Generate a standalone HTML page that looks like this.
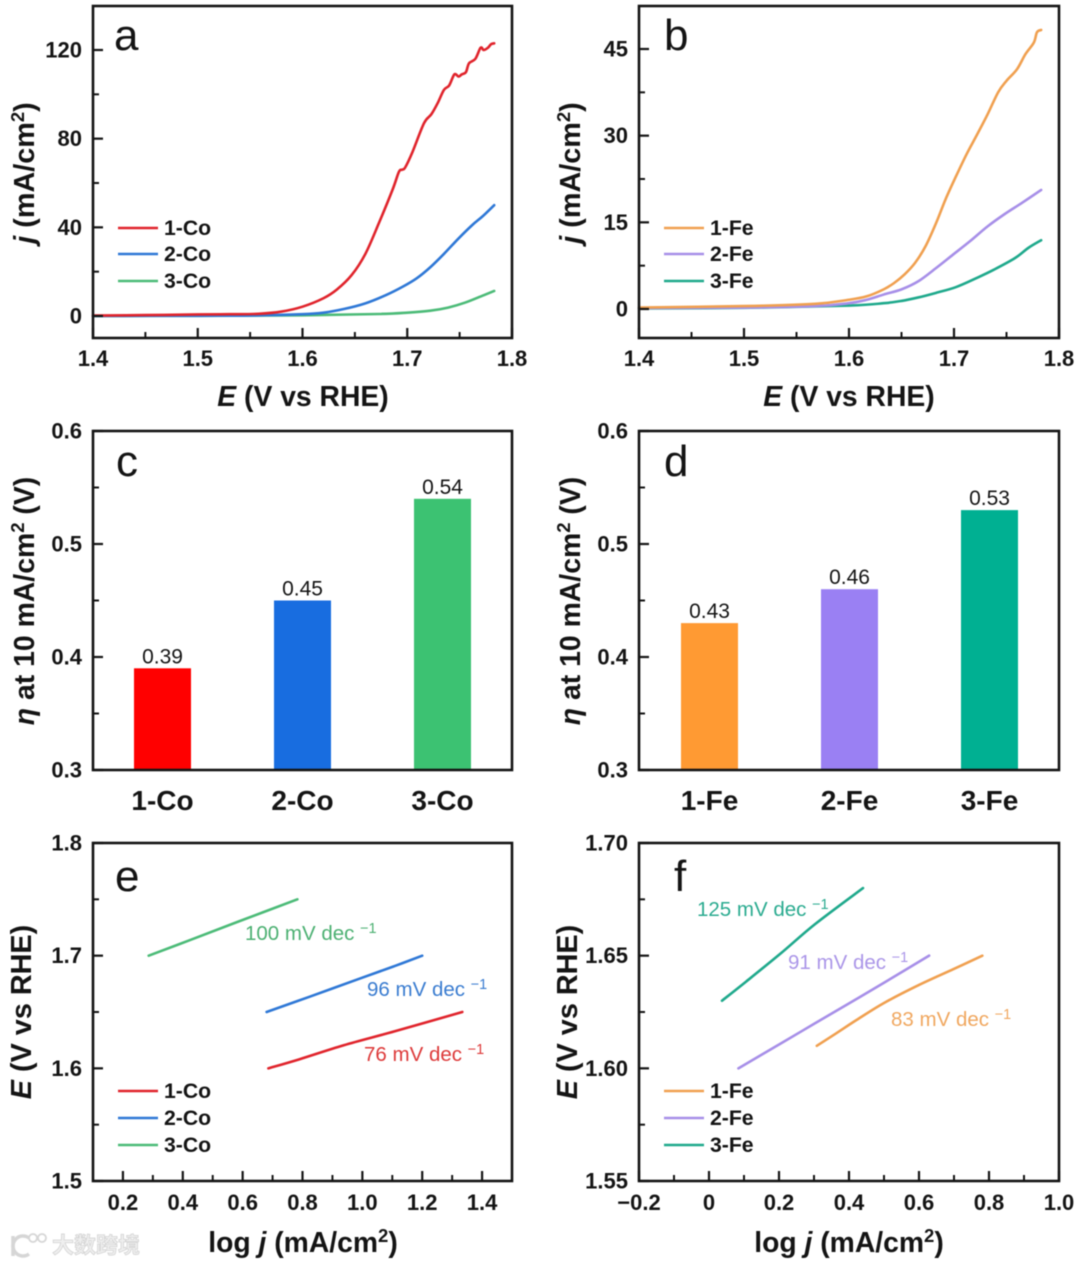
<!DOCTYPE html>
<html lang="en">
<head>
<meta charset="utf-8">
<title>Six-panel electrochemistry figure</title>
<style>
html,body{margin:0;padding:0;background:#fff;}
#figure{display:block;width:1080px;height:1266px;font-family:"Liberation Sans",sans-serif;filter:blur(0.45px);}
</style>
</head>
<body>
<svg id="figure" xmlns="http://www.w3.org/2000/svg" width="1080" height="1266" viewBox="0 0 1080 1266"></svg>
<script>
/* ---- Panel a: polarization curves, Co series ---- */
const co1Potential = [1.4,1.45,1.5,1.53,1.558,1.58,1.6,1.62,1.633,1.647,1.66,1.673,1.686,1.692,1.695,1.698,1.705,1.716,1.723,1.729,1.735,1.74,1.745,1.749,1.752,1.756,1.759,1.765,1.77,1.773,1.777,1.78,1.783];
const co1Current = [0.2,0.4,0.7,0.8,1,2,4.2,8,12,18.5,28,42,57,65,66,67,74,87,91,96,102,104,109,108,109,110,114,116,121,120,121,122.6,123];
const co2Potential = [1.4,1.5,1.55,1.6,1.62,1.64,1.66,1.68,1.696,1.709,1.722,1.735,1.749,1.762,1.772,1.783];
const co2Current = [0,0.1,0.2,0.8,1.5,3.2,5.7,9.5,13.3,17,22,28,35,41,45,50];
const co3Potential = [1.4,1.5,1.6,1.673,1.7,1.722,1.739,1.755,1.771,1.783];
const co3Current = [0,0.1,0.3,0.9,1.5,2.4,3.8,6,9,11.3];

/* ---- Panel b: polarization curves, Fe series ---- */
const fe1Potential = [1.4,1.5,1.568,1.6,1.617,1.633,1.643,1.653,1.663,1.673,1.683,1.692,1.702,1.712,1.722,1.732,1.742,1.75,1.76,1.768,1.776,1.779,1.783];
const fe1Current = [0.25,0.5,0.9,1.6,2.2,3.4,4.5,6,8,10.9,14.9,19,23,26.8,30.2,33.7,37.5,39.5,41.5,44.1,46.1,47.9,48.3];
const fe2Potential = [1.4,1.5,1.568,1.6,1.617,1.633,1.65,1.666,1.683,1.699,1.715,1.732,1.748,1.765,1.783];
const fe2Current = [0.15,0.25,0.5,1,1.6,2.5,3.4,4.8,7.1,9.4,11.7,14.3,16.4,18.4,20.6];
const fe3Potential = [1.4,1.5,1.6,1.633,1.65,1.666,1.683,1.702,1.722,1.738,1.758,1.771,1.783];
const fe3Current = [0.1,0.2,0.6,1,1.4,2,2.8,3.8,5.4,6.8,8.8,10.6,11.9];

/* ---- Panels c, d: overpotential bars ---- */
const coCategories = ['1-Co','2-Co','3-Co'];
const coOverpotential = [0.39,0.45,0.54];
const feCategories = ['1-Fe','2-Fe','3-Fe'];
const feOverpotential = [0.43,0.46,0.53];

/* ---- Panel e: Tafel lines, Co series ---- */
const co1LogJ = [0.686,0.789,0.938,1.11,1.334];
const co1TafelE = [1.6,1.608,1.6205,1.633,1.65];
const co2LogJ = [0.68,0.823,0.995,1.11,1.2];
const co2TafelE = [1.65,1.6635,1.68,1.691,1.7];
const co3LogJ = [0.286,0.421,0.593,0.783];
const co3TafelE = [1.7,1.7135,1.731,1.75];

/* ---- Panel f: Tafel lines, Fe series ---- */
const fe1LogJ = [0.308,0.363,0.422,0.5,0.6,0.698,0.781];
const fe1TafelE = [1.61,1.6155,1.6215,1.629,1.637,1.644,1.65];
const fe2LogJ = [0.084,0.205,0.303,0.402,0.5,0.629];
const fe2TafelE = [1.6,1.611,1.62,1.629,1.638,1.65];
const fe3LogJ = [0.037,0.106,0.205,0.303,0.44];
const fe3TafelE = [1.63,1.6385,1.651,1.664,1.68];

/* ---- Axis ticks and labels ---- */
const potentialTicks = [1.4,1.5,1.6,1.7,1.8];
const potentialMinor = [1.45,1.55,1.65,1.75];
const aYTicks = [0,40,80,120];
const aYMinor = [20,60,100];
const bYTicks = [0,15,30,45];
const bYMinor = [7.5,22.5,37.5];
const barYTicks = [0.3,0.4,0.5,0.6];
const barYMinor = [0.35,0.45,0.55];
const eXTicks = [0.2,0.4,0.6,0.8,1.0,1.2,1.4];
const eXMinor = [0.3,0.5,0.7,0.9,1.1,1.3];
const eYTicks = [1.5,1.6,1.7,1.8];
const eYMinor = [1.55,1.65,1.75];
const fXTicks = [-0.2,0,0.2,0.4,0.6,0.8,1.0];
const fXMinor = [-0.1,0.1,0.3,0.5,0.7,0.9];
const fYTicks = [1.55,1.6,1.65,1.7];
const fYMinor = [1.575,1.625,1.675];

const COLORS = {co1:'#e0242c',co2:'#2f78d6',co3:'#4cbb78',fe1:'#f0a050',fe2:'#a78fe8',fe3:'#1fa98c'};
const BAR_COLORS = {co:['#ff0000','#186de0','#3cc272'],fe:['#ff9a33','#9a80f3','#00b092']};
const SVGNS = 'http://www.w3.org/2000/svg';
const root = document.getElementById('figure');

function mark(parent, tag, name, attrs, text) {
  const el = document.createElementNS(SVGNS, tag);
  
  
  for (const k in attrs) el.setAttribute(k, attrs[k]);
  if (text !== undefined) el.textContent = text;
  parent.appendChild(el);
  return el;
}
function span(parent, name, attrs, text) { return mark(parent, 'tspan', name, attrs, text); }
function linear(d0, d1, r0, r1) { return v => r0 + (v - d0) * (r1 - r0) / (d1 - d0); }
function fmt(v, digits) {
  if (v === 0 && digits === 0) return '0';
  const s = Math.abs(v).toFixed(digits);
  return (v < 0 ? '\u2212' : '') + s;
}

function makePanel(key, box, xDom, yDom) {
  const g = mark(root, 'g', 'panel-' + key, {});
  return {key, g, box, x: linear(xDom[0], xDom[1], box.l, box.r), y: linear(yDom[0], yDom[1], box.b, box.t)};
}
function drawFrame(p) {
  mark(p.g, 'rect', 'plot-frame-' + p.key, {x:p.box.l, y:p.box.t, width:p.box.r-p.box.l, height:p.box.b-p.box.t, fill:'none', stroke:'#141414', 'stroke-width':2.6});
}
function drawYAxis(p, ticks, minor, digits) {
  const l = p.box.l;
  ticks.forEach(v => {
    const y = p.y(v);
    mark(p.g, 'line', 'y-tick-' + p.key, {x1:l, x2:l+10, y1:y, y2:y, stroke:'#141414', 'stroke-width':2.2});
    mark(p.g, 'text', 'y-tick-label-' + p.key, {x:l-11, y:y+7.5, 'text-anchor':'end', 'font-size':22, 'font-weight':'bold', fill:'#141414'}, fmt(v, digits));
  });
  minor.forEach(v => {
    const y = p.y(v);
    mark(p.g, 'line', 'y-minor-tick-' + p.key, {x1:l, x2:l+6, y1:y, y2:y, stroke:'#141414', 'stroke-width':2});
  });
}
function drawXAxis(p, ticks, minor, digits, baseline) {
  const b = p.box.b;
  ticks.forEach(v => {
    const x = p.x(v);
    mark(p.g, 'line', 'x-tick-' + p.key, {x1:x, x2:x, y1:b, y2:b-10, stroke:'#141414', 'stroke-width':2.2});
    mark(p.g, 'text', 'x-tick-label-' + p.key, {x:x, y:baseline, 'text-anchor':'middle', 'font-size':22, 'font-weight':'bold', fill:'#141414'}, fmt(v, v === 0 ? 0 : digits));
  });
  minor.forEach(v => {
    const x = p.x(v);
    mark(p.g, 'line', 'x-minor-tick-' + p.key, {x1:x, x2:x, y1:b, y2:b-6, stroke:'#141414', 'stroke-width':2});
  });
}
function drawLine(p, name, xs, ys, color, width) {
  const pts = xs.map((v, i) => [p.x(v), p.y(ys[i])]);
  let d = 'M' + pts[0][0].toFixed(2) + ' ' + pts[0][1].toFixed(2);
  for (let i = 0; i < pts.length - 1; i++) {
    const a = pts[Math.max(i - 1, 0)], b = pts[i], c = pts[i + 1], e = pts[Math.min(i + 2, pts.length - 1)];
    const c1x = b[0] + (c[0] - a[0]) / 6, c1y = b[1] + (c[1] - a[1]) / 6;
    const c2x = c[0] - (e[0] - b[0]) / 6, c2y = c[1] - (e[1] - b[1]) / 6;
    d += 'C' + c1x.toFixed(2) + ' ' + c1y.toFixed(2) + ' ' + c2x.toFixed(2) + ' ' + c2y.toFixed(2) + ' ' + c[0].toFixed(2) + ' ' + c[1].toFixed(2);
  }
  mark(p.g, 'path', name, {d:d, fill:'none', stroke:color, 'stroke-width':width, 'stroke-linejoin':'round', 'stroke-linecap':'round'});
}
function panelLetter(p, letter, x, y) {
  mark(p.g, 'text', 'panel-label-' + letter, {x, y, 'font-size':44, fill:'#141414'}, letter);
}
function xTitleE(p, cx, baseline) {
  const t = mark(p.g, 'text', 'x-axis-title-' + p.key, {x:cx, y:baseline, 'text-anchor':'middle', 'font-size':28.3, 'font-weight':'bold', fill:'#141414'});
  span(t, 'x-axis-symbol-' + p.key, {'font-style':'italic'}, 'E');
  span(t, 'x-axis-unit-' + p.key, {}, ' (V vs RHE)');
}
function xTitleLog(p, cx, baseline) {
  const t = mark(p.g, 'text', 'x-axis-title-' + p.key, {x:cx, y:baseline, 'text-anchor':'middle', 'font-size':28.3, 'font-weight':'bold', fill:'#141414'});
  span(t, 'x-axis-log-' + p.key, {}, 'log ');
  span(t, 'x-axis-symbol-' + p.key, {'font-style':'italic'}, 'j');
  span(t, 'x-axis-unit-' + p.key, {}, ' (mA/cm');
  span(t, 'x-axis-sup-' + p.key, {dy:-10, 'font-size':18.5}, '2');
  span(t, 'x-axis-close-' + p.key, {dy:10}, ')');
}
function yTitle(p, x, cy, kind) {
  const t = mark(p.g, 'text', 'y-axis-title-' + p.key, {x:0, y:0, transform:'translate(' + x + ',' + cy + ') rotate(-90)', 'text-anchor':'middle', 'font-size':28.8, 'font-weight':'bold', fill:'#141414'});
  if (kind === 'j') {
    span(t, 'y-axis-symbol-' + p.key, {'font-style':'italic'}, 'j');
    span(t, 'y-axis-unit-' + p.key, {}, ' (mA/cm');
    span(t, 'y-axis-sup-' + p.key, {dy:-10, 'font-size':18.5}, '2');
    span(t, 'y-axis-close-' + p.key, {dy:10}, ')');
  } else if (kind === 'E') {
    span(t, 'y-axis-symbol-' + p.key, {'font-style':'italic'}, 'E');
    span(t, 'y-axis-unit-' + p.key, {}, ' (V vs RHE)');
  } else {
    t.setAttribute('font-size', 28.4);
    span(t, 'y-axis-symbol-' + p.key, {'font-style':'italic'}, '\u03B7');
    span(t, 'y-axis-unit-' + p.key, {}, ' at 10 mA/cm');
    span(t, 'y-axis-sup-' + p.key, {dy:-10, 'font-size':18.5}, '2');
    span(t, 'y-axis-close-' + p.key, {dy:10}, ' (V)');
  }
}
function legend(p, labels, colors, x, ys) {
  const g = mark(p.g, 'g', 'legend-' + p.key, {});
  labels.forEach((lab, i) => {
    mark(g, 'line', 'legend-swatch-' + lab, {x1:x, x2:x+40, y1:ys[i], y2:ys[i], stroke:colors[i], 'stroke-width':2.5});
    mark(g, 'text', 'legend-entry-' + lab, {x:x+46, y:ys[i]+7, 'font-size':21.2, 'font-weight':'bold', fill:'#141414'}, lab);
  });
}
function annotate(p, name, x, y, color, label) {
  const t = mark(p.g, 'text', name, {x, y, 'font-size':20.5, fill:color});
  span(t, name + '-value', {}, label + ' ');
  span(t, name + '-exponent', {dy:-7, 'font-size':14.5}, '\u22121');
}
function drawBars(p, cats, vals, colors, zero) {
  const band = 140;
  const first = (p.box.l + 70);
  const pos = linear(0, 1, first, first + band);
  cats.forEach((c, i) => {
    const cx = pos(i) + (p.key === 'd' ? 0.5 : -0.5);
    const y = p.y(vals[i]);
    mark(p.g, 'rect', 'bar-' + c, {x:cx-28.5, y:y, width:57, height:p.y(zero)-y, fill:colors[i]});
    mark(p.g, 'text', 'bar-value-' + c, {x:cx, y:y-5, 'text-anchor':'middle', 'font-size':21, fill:'#141414'}, vals[i].toFixed(2));
    mark(p.g, 'text', 'category-label-' + c, {x:cx, y:810, 'text-anchor':'middle', 'font-size':28, 'font-weight':'bold', fill:'#141414'}, c);
  });
}

/* Panel a */
const pa = makePanel('a', {l:93, r:512, t:6, b:338}, [1.4,1.8], [-10,140]);
pa.y = linear(0, 120, 316, 50);
drawLine(pa, 'curve-3-Co', co3Potential, co3Current, COLORS.co3, 2.6);
drawLine(pa, 'curve-2-Co', co2Potential, co2Current, COLORS.co2, 2.6);
drawLine(pa, 'curve-1-Co', co1Potential, co1Current, COLORS.co1, 2.6);
drawFrame(pa);
drawYAxis(pa, aYTicks, aYMinor, 0);
drawXAxis(pa, potentialTicks, potentialMinor, 1, 366);
panelLetter(pa, 'a', 114, 50);
xTitleE(pa, 303, 406);
yTitle(pa, 34, 173, 'j');
legend(pa, coCategories, [COLORS.co1,COLORS.co2,COLORS.co3], 118, [228,254,281]);

/* Panel b */
const pb = makePanel('b', {l:639, r:1059, t:6, b:338}, [1.4,1.8], [-5,50]);
pb.y = linear(0, 45, 309, 49);
drawLine(pb, 'curve-3-Fe', fe3Potential, fe3Current, COLORS.fe3, 2.6);
drawLine(pb, 'curve-2-Fe', fe2Potential, fe2Current, COLORS.fe2, 2.6);
drawLine(pb, 'curve-1-Fe', fe1Potential, fe1Current, COLORS.fe1, 2.6);
drawFrame(pb);
drawYAxis(pb, bYTicks, bYMinor, 0);
drawXAxis(pb, potentialTicks, potentialMinor, 1, 366);
panelLetter(pb, 'b', 664, 50);
xTitleE(pb, 849, 406);
yTitle(pb, 580, 173, 'j');
legend(pb, feCategories, [COLORS.fe1,COLORS.fe2,COLORS.fe3], 664, [228,254,281]);

/* Panel c */
const pc = makePanel('c', {l:93, r:512, t:431, b:770}, [0,1], [0.3,0.6]);
drawBars(pc, coCategories, coOverpotential, BAR_COLORS.co, 0.3);
drawFrame(pc);
drawYAxis(pc, barYTicks, barYMinor, 1);
panelLetter(pc, 'c', 116, 476);
yTitle(pc, 34, 601, 'eta');

/* Panel d */
const pd = makePanel('d', {l:639, r:1059, t:431, b:770}, [0,1], [0.3,0.6]);
drawBars(pd, feCategories, feOverpotential, BAR_COLORS.fe, 0.3);
drawFrame(pd);
drawYAxis(pd, barYTicks, barYMinor, 1);
panelLetter(pd, 'd', 664, 476);
yTitle(pd, 580, 601, 'eta');

/* Panel e */
const pe = makePanel('e', {l:93, r:512, t:843, b:1181}, [0.1,1.5], [1.5,1.8]);
drawLine(pe, 'tafel-1-Co', co1LogJ, co1TafelE, COLORS.co1, 2.6);
drawLine(pe, 'tafel-2-Co', co2LogJ, co2TafelE, COLORS.co2, 2.6);
drawLine(pe, 'tafel-3-Co', co3LogJ, co3TafelE, COLORS.co3, 2.6);
drawFrame(pe);
drawYAxis(pe, eYTicks, eYMinor, 1);
drawXAxis(pe, eXTicks, eXMinor, 1, 1210);
panelLetter(pe, 'e', 115, 891);
xTitleLog(pe, 303, 1252);
yTitle(pe, 31, 1012, 'E');
legend(pe, coCategories, [COLORS.co1,COLORS.co2,COLORS.co3], 118, [1091,1118,1145]);
annotate(pe, 'slope-label-3-Co', 245, 940, '#4cb072', '100 mV dec');
annotate(pe, 'slope-label-2-Co', 367, 996, '#3a7cd0', '96 mV dec');
annotate(pe, 'slope-label-1-Co', 364, 1061, '#dd3a3a', '76 mV dec');

/* Panel f */
const pf = makePanel('f', {l:639, r:1059, t:843, b:1181}, [-0.2,1.0], [1.55,1.7]);
drawLine(pf, 'tafel-1-Fe', fe1LogJ, fe1TafelE, COLORS.fe1, 2.6);
drawLine(pf, 'tafel-2-Fe', fe2LogJ, fe2TafelE, COLORS.fe2, 2.6);
drawLine(pf, 'tafel-3-Fe', fe3LogJ, fe3TafelE, COLORS.fe3, 2.6);
drawFrame(pf);
drawYAxis(pf, fYTicks, fYMinor, 2);
drawXAxis(pf, fXTicks, fXMinor, 1, 1210);
panelLetter(pf, 'f', 674, 891);
xTitleLog(pf, 849, 1252);
yTitle(pf, 577, 1012, 'E');
legend(pf, feCategories, [COLORS.fe1,COLORS.fe2,COLORS.fe3], 664, [1091,1118,1145]);
annotate(pf, 'slope-label-3-Fe', 697, 916, '#2bab90', '125 mV dec');
annotate(pf, 'slope-label-2-Fe', 788, 969, '#ab96e8', '91 mV dec');
annotate(pf, 'slope-label-1-Fe', 891, 1026, '#f0a75f', '83 mV dec');

/* Watermark */
const wm = mark(root, 'g', 'watermark', {});
mark(wm, 'line', 'watermark-logo-bar', {x1:13, x2:13, y1:1236, y2:1256, stroke:'#d6d6d6', 'stroke-width':3.5});
mark(wm, 'path', 'watermark-logo-arc', {d:'M29 1238 A10 10 0 1 0 29 1254', fill:'none', stroke:'#d6d6d6', 'stroke-width':3.5});
mark(wm, 'circle', 'watermark-logo-dot-1', {cx:33, cy:1238, r:4, fill:'#fff', stroke:'#d6d6d6', 'stroke-width':1.8});
mark(wm, 'circle', 'watermark-logo-dot-2', {cx:42, cy:1238, r:4, fill:'#fff', stroke:'#d6d6d6', 'stroke-width':1.8});
mark(wm, 'text', 'watermark-text', {x:52, y:1253, 'font-size':22, 'font-family':'"Liberation Sans","Noto Sans CJK SC",sans-serif', 'font-weight':'bold', fill:'#efefef', stroke:'#d4d4d4', 'stroke-width':0.8}, '\u5927\u6570\u8DE8\u5883');
</script>
</body>
</html>
